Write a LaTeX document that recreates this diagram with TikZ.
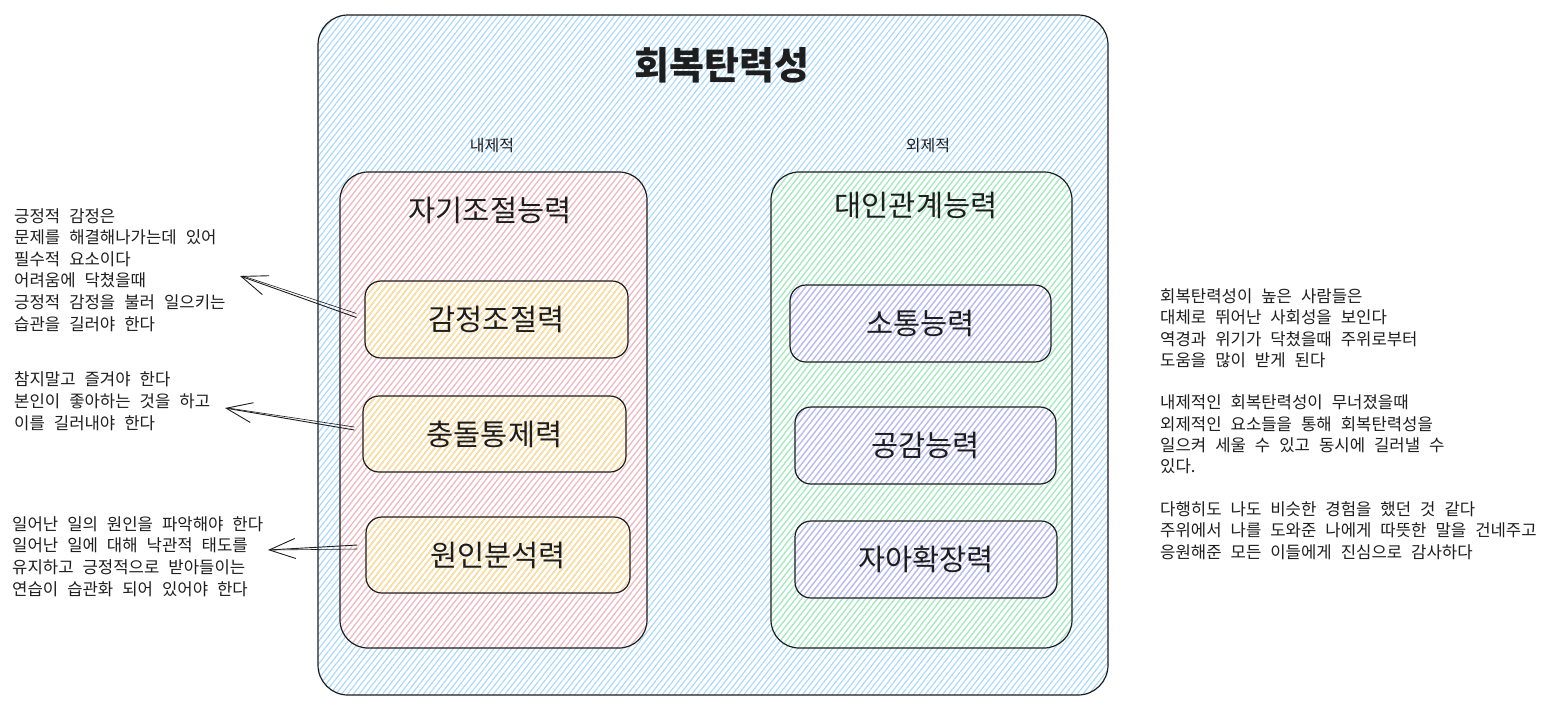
\documentclass[tikz,border=0pt]{standalone}
\usepackage{fontspec}
\setmainfont{Noto Sans CJK KR}
\newfontfamily\notefont{Noto Sans CJK KR}[WordSpace=2.4]
\usetikzlibrary{patterns.meta,arrows.meta,calc}
\definecolor{hblue}{HTML}{A5D8FF}
\definecolor{hred}{HTML}{FFB8B8}
\definecolor{hgreen}{HTML}{A8EEB3}
\definecolor{hyellow}{HTML}{FFE38A}
\definecolor{hviolet}{HTML}{C5B3FF}
\definecolor{ink}{HTML}{1E1E1E}
\tikzset{
  hatch/.style={pattern={Lines[angle=52,distance=4.6pt,line width=1.1pt]}, pattern color=#1},
  outerbox/.style={draw=ink, line width=1.2pt, rounded corners=30pt, hatch=hblue, inner sep=0pt},
  groupbox/.style={draw=ink, line width=1.2pt, rounded corners=28pt, hatch=#1, inner sep=0pt},
  itembox/.style={draw=ink, line width=1.2pt, rounded corners=16pt, hatch=#1, inner sep=0pt,
     font=\fontsize{29.5}{32}\selectfont, text=ink},
  bigtitle/.style={font=\fontsize{38}{42}\selectfont\bfseries, text=ink},
  gtitle/.style={font=\fontsize{29.5}{32}\selectfont, text=ink},
  sidelabel/.style={font=\fontsize{16}{18}\selectfont, text=ink},
  note/.style={font=\notefont\fontsize{16.7}{21.6}\selectfont, text=ink, align=left, inner sep=0pt, anchor=base west},
  noter/.style={font=\notefont\fontsize{16.7}{21.3}\selectfont, text=ink, align=left, inner sep=0pt, anchor=base west},
  sketcharrow/.style={draw=ink, line width=0.9pt, -{Straight Barb[length=26pt,width=20pt,line width=0.9pt]}},
  sketchline/.style={draw=ink, line width=0.6pt}
}
\begin{document}
\begin{tikzpicture}[x=1pt,y=-1pt]
\useasboundingbox (0,0) rectangle (1547,713);
\fill[white] (0,0) rectangle (1547,713);

% outer container
\node[outerbox, minimum width=790pt, minimum height=680pt] (outer) at (713,355) {};
\node[bigtitle] (title) at (722,65) {회복탄력성};
\node[sidelabel] (inlab) at (492,146) {내제적};
\node[sidelabel] (exlab) at (928,146) {외제적};

% groups
\node[groupbox=hred, minimum width=307pt, minimum height=476pt] (self) at (493.5,410) {};
\node[gtitle] (selft) at (490,210) {자기조절능력};
\node[groupbox=hgreen, minimum width=301pt, minimum height=476pt] (inter) at (921.5,410) {};
\node[gtitle] (intert) at (916,205) {대인관계능력};

% items left
\node[itembox=hyellow, minimum width=263pt, minimum height=77pt] (emo) at (496.5,319.5) {감정조절력};
\node[itembox=hyellow, minimum width=263pt, minimum height=76pt] (imp) at (494.5,434) {충돌통제력};
\node[itembox=hyellow, minimum width=264pt, minimum height=76pt] (cause) at (498,555) {원인분석력};

% items right
\node[itembox=hviolet, minimum width=261pt, minimum height=77pt] (comm) at (920.5,323.5) {소통능력};
\node[itembox=hviolet, minimum width=261pt, minimum height=77pt] (emp) at (925.5,445.5) {공감능력};
\node[itembox=hviolet, minimum width=262pt, minimum height=77pt] (ext) at (926,559.5) {자아확장력};

% notes left (anchor at the baseline of the last line)
\node[note] (n1) at (14,330) {긍정적 감정은\\문제를 해결해나가는데 있어\\필수적 요소이다\\어려움에 닥쳤을때\\긍정적 감정을 불러 일으키는\\습관을 길러야 한다};
\node[note] (n2) at (14,429) {참지말고 즐겨야 한다\\본인이 좋아하는 것을 하고\\이를 길러내야 한다};
\node[note] (n3) at (12,595) {일어난 일의 원인을 파악해야 한다\\일어난 일에 대해 낙관적 태도를\\유지하고 긍정적으로 받아들이는\\연습이 습관화 되어 있어야 한다};

% note right
\node[noter] (n4) at (1160,558) {회복탄력성이 높은 사람들은\\대체로 뛰어난 사회성을 보인다\\역경과 위기가 닥쳤을때 주위로부터\\도움을 많이 받게 된다\\[21.3pt]내제적인 회복탄력성이 무너졌을때\\외제적인 요소들을 통해 회복탄력성을\\일으켜 세울 수 있고 동시에 길러낼 수\\있다.\\[21.3pt]다행히도 나도 비슷한 경험을 했던 것 같다\\주위에서 나를 도와준 나에게 따뜻한 말을 건네주고\\응원해준 모든 이들에게 진심으로 감사하다};

% arrows
\coordinate (a1s) at ($(emo.west)+(-8,-2)$);
\coordinate (a1e) at (240,276);
\coordinate (a2s) at ($(imp.west)+(-8,-4)$);
\coordinate (a2e) at (225,408);
\coordinate (a3s) at ($(cause.west)+(-8,-10)$);
\coordinate (a3e) at (268,550);
\draw[sketcharrow] (a1s) -- (a1e);
\draw[sketchline] ($(a1s)+(0,-4)$) -- ($(a1e)+(3,0)$);
\draw[sketcharrow] (a2s) -- (a2e);
\draw[sketchline] ($(a2s)+(0,-3)$) -- ($(a2e)+(3,0)$);
\draw[sketcharrow] (a3s) -- (a3e);
\draw[sketchline] ($(a3s)+(0,4)$) -- ($(a3e)+(3,0)$);
\end{tikzpicture}
\end{document}
